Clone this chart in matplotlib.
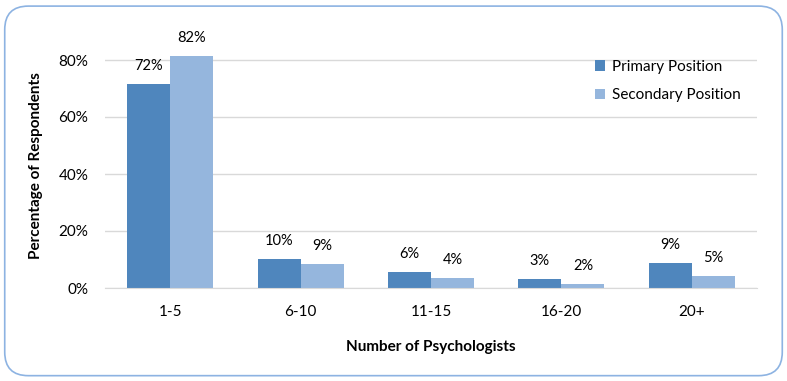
import numpy as np
import matplotlib.pyplot as plt
from matplotlib.patches import FancyBboxPatch

plt.rcParams['font.family'] = ['Lato', 'DejaVu Sans']

categories = ['1-5', '6-10', '11-15', '16-20', '20+']
primary = [0.717, 0.103, 0.056, 0.031, 0.088]
secondary = [0.815, 0.085, 0.035, 0.015, 0.043]
primary_labels = ['72%', '10%', '6%', '3%', '9%']
secondary_labels = ['82%', '9%', '4%', '2%', '5%']
yticks = [0, 0.2, 0.4, 0.6, 0.8]
ytick_labels = ['0%', '20%', '40%', '60%', '80%']

fig = plt.figure(figsize=(7.87, 3.81), dpi=100)
# rounded outer frame
frame = FancyBboxPatch((0.006, 0.014), 0.988, 0.97, boxstyle='round,pad=0,rounding_size=0.03',
                       transform=fig.transFigure, facecolor='none', edgecolor='#8db3e2', lw=1.2,
                       mutation_aspect=787/381, zorder=-1)
fig.patches.append(frame)

ax = fig.add_axes([105/787, 1 - 288/381, 652/787, 245/381])
ax.patch.set_alpha(0)
x = np.arange(len(categories))
w = 0.33
b1 = ax.bar(x - w/2, primary, w, color='#4f86bd', label='Primary Position', zorder=2)
b2 = ax.bar(x + w/2, secondary, w, color='#95b6dd', label='Secondary Position', zorder=2)

for rect, lab in zip(b1, primary_labels):
    ax.annotate(lab, (rect.get_x() + rect.get_width()/2, rect.get_height()),
                xytext=(0, 8), textcoords='offset points', ha='center', va='bottom', fontsize=10.5)
for rect, lab in zip(b2, secondary_labels):
    ax.annotate(lab, (rect.get_x() + rect.get_width()/2, rect.get_height()),
                xytext=(0, 8), textcoords='offset points', ha='center', va='bottom', fontsize=10.5)

ax.set_xlim(-0.5, 4.5)
ax.set_ylim(0, 0.8 * 245 / 228)
ax.set_yticks(yticks)
ax.set_yticklabels(ytick_labels, fontsize=11)
ax.set_xticks(x)
ax.set_xticklabels(categories, fontsize=11)
ax.tick_params(length=0, pad=12, axis='x')
ax.tick_params(length=0, pad=12, axis='y')
ax.grid(axis='y', color='#d9d9d9', lw=1, zorder=0)
for s in ['top', 'right', 'left']:
    ax.spines[s].set_visible(False)
ax.spines['bottom'].set_color('#d9d9d9')

ax.set_xlabel('Number of Psychologists', fontsize=11, fontweight='bold', labelpad=15)
ax.set_ylabel('Percentage of Respondents', fontsize=11, fontweight='bold', labelpad=11)

ax.legend(loc='upper left', bbox_to_anchor=(0.73, 0.988), frameon=False, fontsize=11,
          handlelength=0.7, handleheight=0.7, handletextpad=0.4, labelspacing=0.95)

fig.savefig('out.png', dpi=100)
